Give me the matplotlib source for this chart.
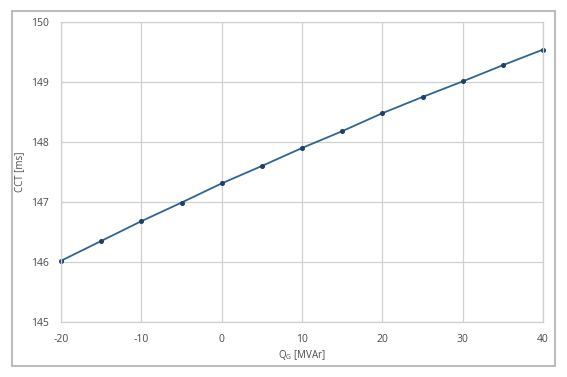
import matplotlib.pyplot as plt
from matplotlib.patches import Rectangle

# Datos
q_g = [-20, -15, -10, -5, 0, 5, 10, 15, 20, 25, 30, 35, 40]
cct = [146.02, 146.35, 146.68, 146.99, 147.31, 147.60, 147.90, 148.18,
       148.48, 148.75, 149.01, 149.28, 149.54]
x_ticks = [-20, -10, 0, 10, 20, 30, 40]
y_ticks = [145, 146, 147, 148, 149, 150]

LINE_COLOR = "#2F6494"
MARKER_COLOR = "#1F3F66"
GRID_COLOR = "#D0D0D0"
TEXT_COLOR = "#4A4A4A"

plt.rcParams["font.family"] = ["Open Sans", "DejaVu Sans"]
plt.rcParams["axes.unicode_minus"] = False

fig = plt.figure(figsize=(5.67, 3.77), dpi=100)
ax = fig.add_axes([61 / 567, 1 - 322 / 377, (543 - 61) / 567, (322 - 22) / 377])

# Marco exterior estilo Excel
fig.patches.append(Rectangle((12 / 567, 1 - 366 / 377), (555 - 12) / 567, (366 - 11) / 377,
                             transform=fig.transFigure, fill=False,
                             edgecolor="#BDBDBD", linewidth=1.5))

ax.plot(q_g, cct, color=LINE_COLOR, linewidth=1.3, marker="o", markersize=2.6,
        markerfacecolor=MARKER_COLOR, markeredgecolor=MARKER_COLOR, clip_on=False)

ax.set_xlim(-20, 40)
ax.set_ylim(145, 150)
ax.set_xticks(x_ticks)
ax.set_yticks(y_ticks)
ax.grid(True, color=GRID_COLOR, linewidth=0.9)
ax.set_axisbelow(True)
for s in ax.spines.values():
    s.set_color(GRID_COLOR)
    s.set_linewidth(0.9)
ax.tick_params(length=0, labelsize=7.5, colors=TEXT_COLOR, pad=9)

ax.set_xlabel("Q$_\\mathregular{G}$ [MVAr]", fontsize=7, color=TEXT_COLOR, labelpad=2)
ax.set_ylabel("CCT [ms]", fontsize=7, color=TEXT_COLOR, labelpad=4)

fig.savefig("out.png", dpi=100)
